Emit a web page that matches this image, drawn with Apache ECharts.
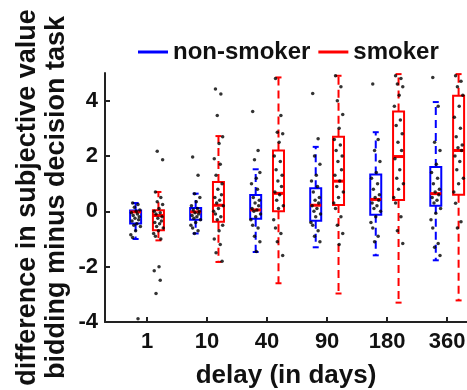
<!DOCTYPE html>
<html>
<head>
<meta charset="utf-8">
<script src="https://cdn.jsdelivr.net/npm/echarts@6/dist/echarts.min.js"></script>
<style>
  html, body { margin: 0; padding: 0; background: #fff; }
  #chart { width: 467px; height: 390px; }
</style>
</head>
<body>
<div id="chart"></div>
<script>
// delay groups
var delays = ['1', '10', '40', '90', '180', '360']
var yTicks = [-4, -2, 0, 2, 4]

// box stats per delay: [low whisker, q1, median, q3, high whisker]
var nonSmokerStats = [
  [-1.0, -0.44, -0.02, 0.03, 0.30],
  [-0.80, -0.30, -0.02, 0.12, 0.64],
  [-1.47, -0.27, 0.05, 0.59, 1.52],
  [-1.30, -0.34, 0.22, 0.83, 2.33],
  [-1.59, -0.12, 0.43, 1.33, 2.86],
  [-1.77, 0.20, 0.64, 1.60, 3.95]
]
var smokerStats = [
  [-1.05, -0.68, -0.15, 0.04, 0.70],
  [-1.83, -0.38, 0.22, 1.06, 2.72],
  [-2.60, 0.00, 0.65, 2.20, 4.84],
  [-2.97, 0.23, 1.09, 2.70, 4.90],
  [-3.30, 0.41, 1.98, 3.61, 4.96],
  [-3.22, 0.60, 2.20, 4.18, 4.96]
]

// individual subjects
var nonSmokerPoints = [
  [0.3, 0.25, 0.15, 0.05, 0.0, -0.05, -0.1, -0.15, -0.2, -0.25, -0.3, -0.35, -0.45, -0.5, -0.55, -0.7, -0.85, -0.95, -3.88],
  [1.96, 1.30, 0.64, 0.5, 0.35, 0.2, 0.1, 0.05, 0.0, -0.05, -0.1, -0.15, -0.2, -0.25, -0.3, -0.4, -0.5, -0.6, -0.7, -0.8],
  [3.61, 2.2, 1.86, 1.4, 1.2, 1.0, 0.8, 0.5, 0.4, 0.3, 0.2, 0.1, 0.05, 0.0, -0.1, -0.2, -0.3, -0.5, -0.6, -0.9, -1.1, -1.45],
  [4.26, 2.62, 2.0, 1.7, 1.3, 1.1, 0.9, 0.7, 0.5, 0.4, 0.3, 0.2, 0.1, 0.0, -0.1, -0.2, -0.4, -0.5, -0.7, -0.9, -1.1],
  [4.6, 2.6, 2.2, 1.8, 1.4, 1.2, 1.0, 0.8, 0.6, 0.5, 0.4, 0.3, 0.2, 0.1, 0.0, -0.2, -0.4, -0.6, -0.9, -1.1],
  [4.84, 3.8, 2.5, 2.2, 1.7, 1.4, 1.2, 1.0, 0.8, 0.7, 0.6, 0.5, 0.4, 0.3, 0.1, -0.07, -0.3, -0.6, -1.16, -1.3, -1.6]
]
var smokerPoints = [
  [0.7, 0.5, 0.35, 0.25, 0.1, 0.0, -0.05, -0.1, -0.2, -0.25, -0.35, -0.4, -0.45, -0.55, -0.6, -0.7, -0.8, -0.9, -1.0, 2.17, 1.86, -2.0, -2.15, -2.49, -2.97],
  [4.42, 4.24, 3.46, 2.7, 2.45, 1.9, 1.7, 1.3, 1.0, 0.8, 0.6, 0.5, 0.4, 0.3, 0.2, 0.1, 0.0, -0.1, -0.2, -0.3, -0.5, -0.7, -1.0, -1.2, -1.5, -1.8],
  [4.8, 3.46, 2.86, 2.8, 2.5, 2.0, 1.8, 1.5, 1.3, 1.1, 0.9, 0.7, 0.6, 0.4, 0.2, 0.1, -0.3, -0.6, -0.8, -1.1, -1.6],
  [4.9, 4.5, 4.0, 3.5, 3.0, 2.6, 2.4, 2.2, 2.0, 1.8, 1.5, 1.3, 1.1, 0.9, 0.7, 0.5, 0.3, 0.1, -0.2, -0.5, -0.8, -1.2],
  [4.9, 4.8, 4.6, 4.5, 4.2, 3.8, 3.3, 3.1, 2.8, 2.5, 2.2, 1.9, 1.5, 1.2, 1.0, 0.8, 0.5, 0.3, -0.2, -0.7, -1.16],
  [4.9, 4.7, 4.5, 4.2, 3.8, 3.4, 3.0, 2.7, 2.4, 2.3, 2.2, 2.0, 1.8, 1.5, 1.2, 1.0, 0.7, 0.29, -0.38, -0.6]
]
// horizontal scatter of the dots around each box (x units)
var jitter = [-0.05, 0.04, -0.02, 0.07, 0.01, -0.07, 0.03, -0.04, 0.06, -0.01, 0.05, -0.06, 0.02, -0.03, 0.08, 0.0, -0.08]

var groupShift = 0.19
var font = 'Liberation Sans, Arial, sans-serif'

function boxData(stats, shift) {
  return stats.map(function (s, i) {
    return [i + 1 + shift].concat(s)
  })
}

function pointData(points, shift) {
  var out = []
  points.forEach(function (list, i) {
    list.forEach(function (v, j) {
      out.push([i + 1 + shift + jitter[j % jitter.length], v])
    })
  })
  return out
}

function renderBox(params, api) {
  var x = api.value(0)
  var lo = api.coord([x, api.value(1)])
  var q1 = api.coord([x, api.value(2)])
  var md = api.coord([x, api.value(3)])
  var q3 = api.coord([x, api.value(4)])
  var hi = api.coord([x, api.value(5)])
  var color = api.visual('color')
  var cx = lo[0]
  var hw = 5.5
  var cw = 3
  var dash = { stroke: color, lineWidth: 2, lineDash: [8, 5] }
  var solid = { stroke: color, lineWidth: 2 }
  return {
    type: 'group',
    children: [
      { type: 'line', shape: { x1: cx, y1: q3[1], x2: cx, y2: hi[1] }, style: dash },
      { type: 'line', shape: { x1: cx, y1: q1[1], x2: cx, y2: lo[1] }, style: dash },
      { type: 'line', shape: { x1: cx - cw, y1: hi[1], x2: cx + cw, y2: hi[1] }, style: solid },
      { type: 'line', shape: { x1: cx - cw, y1: lo[1], x2: cx + cw, y2: lo[1] }, style: solid },
      { type: 'rect', shape: { x: cx - hw, y: q3[1], width: hw * 2, height: q1[1] - q3[1] }, style: { fill: 'none', stroke: color, lineWidth: 2 } },
      { type: 'line', shape: { x1: cx - hw, y1: md[1], x2: cx + hw, y2: md[1] }, style: { stroke: '#ff0000', lineWidth: 3 } }
    ]
  }
}

var chart = echarts.init(document.getElementById('chart'))
chart.setOption({
  animation: false,
  textStyle: { fontFamily: font },
  legend: {
    data: [
      { name: 'non-smoker', icon: 'rect' },
      { name: 'smoker', icon: 'rect' }
    ],
    left: 133,
    top: 35,
    itemWidth: 30,
    itemHeight: 3,
    itemGap: 8,
    textStyle: { fontFamily: font, fontSize: 24, fontWeight: 'bold', color: '#111' }
  },
  grid: {
    left: 105,
    right: 0,
    top: 73,
    bottom: 68,
    outerBoundsMode: 'none'
  },
  xAxis: {
    type: 'value',
    min: 0.3,
    max: 6.33,
    name: 'delay (in days)',
    nameLocation: 'middle',
    nameGap: 41,
    nameMoveOverlap: false,
    nameTextStyle: { fontFamily: font, fontSize: 26, fontWeight: 'bold', color: '#111' },
    axisLine: { show: true, onZero: false, lineStyle: { color: '#222', width: 2 } },
    axisTick: { show: true, inside: true, length: 5, lineStyle: { color: '#222', width: 2 }, customValues: [1, 2, 3, 4, 5, 6] },
    axisLabel: {
      customValues: [1, 2, 3, 4, 5, 6],
      margin: 9,
      fontFamily: font,
      fontSize: 22,
      fontWeight: 'bold',
      color: '#111',
      formatter: function (v) {
        return delays[Math.round(v) - 1]
      }
    },
    splitLine: { show: false }
  },
  yAxis: {
    type: 'value',
    min: -4,
    max: 5,
    name: 'difference in subjective value\nbidding minus decision task',
    nameLocation: 'middle',
    nameGap: 34,
    nameMoveOverlap: false,
    nameTextStyle: { fontFamily: font, fontSize: 27, fontWeight: 'bold', color: '#111', lineHeight: 29 },
    axisLine: { show: true, onZero: false, lineStyle: { color: '#222', width: 2 } },
    axisTick: { show: true, inside: true, length: 5, lineStyle: { color: '#222', width: 2 }, customValues: yTicks },
    axisLabel: {
      customValues: yTicks,
      margin: 7,
      fontFamily: font,
      fontSize: 22,
      fontWeight: 'bold',
      color: '#111'
    },
    splitLine: { show: false }
  },
  series: [
    {
      name: 'non-smoker',
      type: 'custom',
      renderItem: renderBox,
      itemStyle: { color: '#0000ff' },
      encode: { x: 0, y: [1, 2, 3, 4, 5] },
      data: boxData(nonSmokerStats, -groupShift),
      z: 2
    },
    {
      name: 'smoker',
      type: 'custom',
      renderItem: renderBox,
      itemStyle: { color: '#ff0000' },
      encode: { x: 0, y: [1, 2, 3, 4, 5] },
      data: boxData(smokerStats, groupShift),
      z: 2
    },
    {
      name: 'dots-non',
      type: 'scatter',
      symbolSize: 3.5,
      itemStyle: { color: '#000' },
      data: pointData(nonSmokerPoints, -groupShift),
      z: 5
    },
    {
      name: 'dots-smk',
      type: 'scatter',
      symbolSize: 3.5,
      itemStyle: { color: '#000' },
      data: pointData(smokerPoints, groupShift),
      z: 5
    }
  ]
})
</script>
</body>
</html>
